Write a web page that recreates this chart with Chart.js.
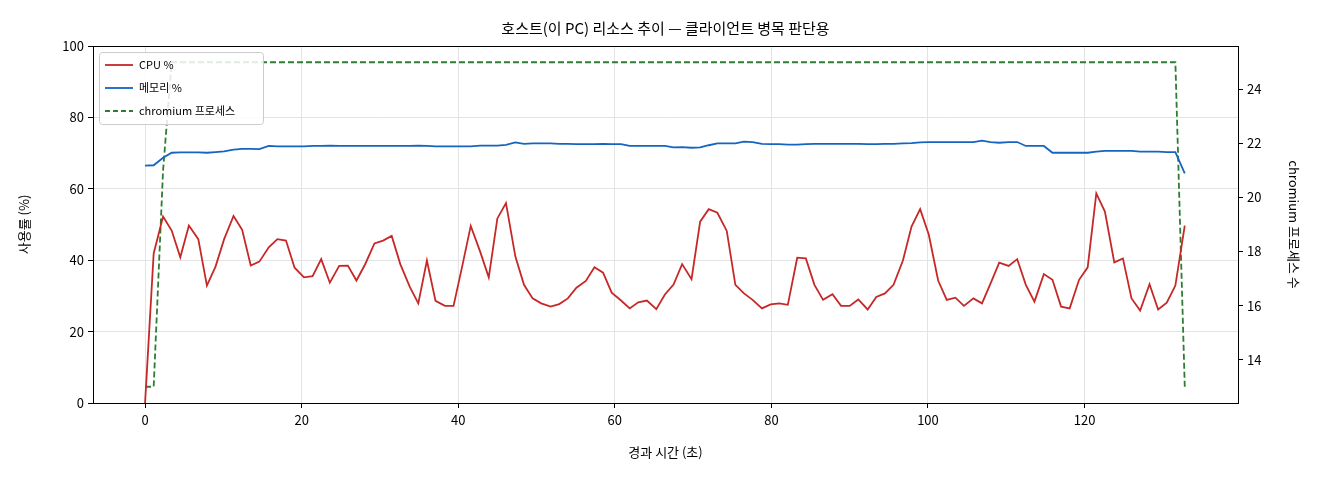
<!DOCTYPE html>
<html><head><meta charset="utf-8">
<script src="https://cdn.jsdelivr.net/npm/chart.js@4/dist/chart.umd.min.js"></script>
<style>html,body{margin:0;padding:0;background:#fff}#w{width:1320px;height:480px}</style>
</head><body><div id="w"><canvas id="c" width="1320" height="480"></canvas></div>
<script>
const times=[0,1.1,2.3,3.4,4.5,5.6,6.8,7.9,9.0,10.1,11.3,12.4,13.5,14.6,15.8,16.9,18.0,19.1,20.3,21.4,22.5,23.6,24.8,25.9,27.0,28.1,29.3,30.4,31.5,32.6,33.8,34.9,36.0,37.1,38.3,39.4,40.5,41.6,42.8,43.9,45.0,46.1,47.3,48.4,49.5,50.6,51.8,52.9,54.0,55.1,56.3,57.4,58.5,59.6,60.8,61.9,63.0,64.1,65.3,66.4,67.5,68.6,69.8,70.9,72.0,73.1,74.3,75.4,76.5,77.6,78.8,79.9,81.0,82.1,83.3,84.4,85.5,86.6,87.8,88.9,90.0,91.1,92.3,93.4,94.5,95.6,96.8,97.9,99.0,100.1,101.3,102.4,103.5,104.6,105.8,106.9,108.0,109.1,110.3,111.4,112.5,113.6,114.8,115.9,117.0,118.1,119.3,120.4,121.5,122.6,123.8,124.9,126.0,127.1,128.3,129.4,130.5,131.6,132.8];
const cpu=[0,41.9,52.2,48.3,40.8,49.7,45.9,32.9,38.2,45.9,52.4,48.5,38.5,39.6,43.6,45.9,45.5,37.9,35.2,35.5,40.3,33.7,38.4,38.5,34.3,38.8,44.7,45.5,46.8,38.9,32.6,27.9,39.9,28.6,27.2,27.2,38.2,49.6,42.4,35.2,51.7,56.0,41.0,33.1,29.3,27.9,27.0,27.7,29.3,32.3,34.2,38.0,36.5,30.9,28.7,26.5,28.2,28.7,26.3,30.4,33.2,38.9,34.7,50.8,54.3,53.3,48.2,33.1,30.7,28.9,26.5,27.6,27.9,27.5,40.7,40.5,33.1,28.9,30.5,27.2,27.2,29.0,26.2,29.7,30.7,33.1,39.9,49.4,54.3,47.2,34.3,28.9,29.5,27.2,29.3,27.9,33.5,39.3,38.4,40.3,33.1,28.4,36.1,34.5,27.0,26.5,34.5,38.0,58.7,53.6,39.4,40.5,29.3,25.9,33.3,26.2,28.1,32.9,49.7];
const mem=[66.5,66.6,68.7,70.1,70.2,70.2,70.2,70.1,70.3,70.5,71.0,71.2,71.2,71.1,72.0,71.9,71.9,71.9,71.9,72.0,72.0,72.1,72.0,72.0,72.0,72.0,72.0,72.0,72.0,72.0,72.0,72.1,72.0,71.9,71.9,71.9,71.9,71.9,72.1,72.1,72.1,72.3,73.0,72.6,72.7,72.7,72.7,72.6,72.6,72.5,72.5,72.5,72.6,72.5,72.5,72.0,72.0,72.0,72.0,72.0,71.6,71.7,71.5,71.6,72.2,72.7,72.7,72.7,73.2,73.1,72.6,72.5,72.5,72.4,72.4,72.5,72.6,72.6,72.6,72.6,72.6,72.6,72.5,72.5,72.6,72.6,72.7,72.8,73.0,73.1,73.1,73.1,73.1,73.1,73.1,73.5,73.1,72.9,73.1,73.1,72.0,72.0,72.0,70.1,70.1,70.1,70.1,70.1,70.4,70.6,70.6,70.6,70.6,70.4,70.4,70.4,70.3,70.3,64.3];
const procs=[13,13,21,25,25,25,25,25,25,25,25,25,25,25,25,25,25,25,25,25,25,25,25,25,25,25,25,25,25,25,25,25,25,25,25,25,25,25,25,25,25,25,25,25,25,25,25,25,25,25,25,25,25,25,25,25,25,25,25,25,25,25,25,25,25,25,25,25,25,25,25,25,25,25,25,25,25,25,25,25,25,25,25,25,25,25,25,25,25,25,25,25,25,25,25,25,25,25,25,25,25,25,25,25,25,25,25,25,25,25,25,25,25,25,25,25,25,25,13];
const xTicks=[0,20,40,60,80,100,120];
const yTicks=[0,20,40,60,80,100];
const y2Ticks=[14,16,18,20,22,24];
const labels=['CPU %','메모리 %','chromium 프로세스'];
const title='호스트(이 PC) 리소스 추이 — 클라이언트 병목 판단용';

const F='"Noto Sans CJK KR","DejaVu Sans",sans-serif';
const pts=a=>a.map((v,i)=>({x:times[i],y:v}));
const fixed=t=>function(ax){ax.ticks=t.map(v=>({value:v}));};
const frame={id:'frame',afterDraw(c){const a=c.chartArea,x=c.ctx;x.save();x.strokeStyle='#000';x.lineWidth=1;x.strokeRect(a.left+.5,a.top+.5,a.right-a.left,a.bottom-a.top);
 x.fillStyle='#000';x.font='15px '+F;x.textAlign='center';x.textBaseline='middle';x.fillText(title,(a.left+a.right)/2,28);
 const lx=a.left+6,ly=a.top+6,w=164,h=72;x.fillStyle='rgba(255,255,255,0.85)';x.strokeStyle='#ccc';x.beginPath();x.roundRect(lx+.5,ly+.5,w,h,3);x.fill();x.stroke();
 const cols=['#c62828','#1565c0','#2e7d32'];x.font='11px '+F;x.textAlign='left';
 labels.forEach((l,i)=>{const yy=ly+13+i*23;x.strokeStyle=cols[i];x.lineWidth=1.8;x.setLineDash(i==2?[5,3]:[]);x.beginPath();x.moveTo(lx+6,yy);x.lineTo(lx+34,yy);x.stroke();x.setLineDash([]);x.fillStyle='#000';x.fillText(l,lx+40,yy);});
 x.restore();}};
new Chart(document.getElementById('c'),{type:'line',
 data:{datasets:[
  {label:labels[0],data:pts(cpu),borderColor:'#c62828',borderWidth:1.8,pointRadius:0,yAxisID:'y',tension:0},
  {label:labels[1],data:pts(mem),borderColor:'#1565c0',borderWidth:1.8,pointRadius:0,yAxisID:'y',tension:0},
  {label:labels[2],data:pts(procs),borderColor:'#2e7d32',borderWidth:1.8,borderDash:[6,3],pointRadius:0,yAxisID:'y2',tension:0}]},
 options:{responsive:false,animation:false,layout:{padding:{top:46,left:16,right:18,bottom:20}},
  plugins:{legend:{display:false},tooltip:{enabled:false}},
  scales:{
   x:{type:'linear',min:-6.65,max:139.6,afterBuildTicks:fixed(xTicks),afterFit(a){a.height=57;},
    grid:{color:'#e3e3e3',drawTicks:true,tickLength:5,tickColor:'#000'},border:{display:false},
    ticks:{color:'#000',font:{family:F,size:13},padding:4},title:{display:true,text:'경과 시간 (초)',color:'#000',font:{family:F,size:13},padding:{top:2,bottom:0}}},
   y:{type:'linear',position:'left',min:0,max:100,afterBuildTicks:fixed(yTicks),afterFit(a){a.width=77;},
    grid:{color:'#e3e3e3',tickLength:5,tickColor:'#000'},border:{display:false},
    ticks:{color:'#000',font:{family:F,size:13},padding:4},title:{display:true,text:'사용률 (%)',color:'#000',font:{family:F,size:13},padding:0}},
   y2:{type:'linear',position:'right',min:12.4,max:25.6,afterBuildTicks:fixed(y2Ticks),afterFit(a){a.width=64;},
    grid:{drawOnChartArea:false,tickLength:5,tickColor:'#000'},border:{display:false},
    ticks:{color:'#000',font:{family:F,size:13},padding:4},title:{display:true,text:'chromium 프로세스 수',color:'#000',font:{family:F,size:13},padding:0}}}},
 plugins:[frame]});
</script></body></html>
